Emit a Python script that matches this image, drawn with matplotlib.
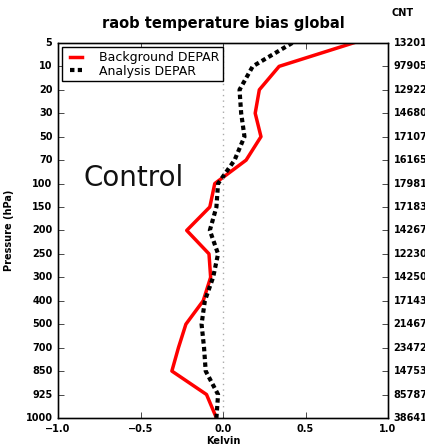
import matplotlib.pyplot as plt

# pressure levels (hPa), plotted as evenly spaced categories
levels = ["5", "10", "20", "30", "50", "70", "100", "150", "200", "250",
          "300", "400", "500", "700", "850", "925", "1000"]
counts = ["13201", "97905", "12922", "14680", "17107", "16165", "17981", "17183",
          "14267", "12230", "14250", "17143", "21467", "23472", "14753", "85787", "38641"]

# bias values in Kelvin
background = [0.79, 0.34, 0.22, 0.195, 0.23, 0.14, -0.05, -0.08, -0.22, -0.085,
              -0.075, -0.12, -0.225, -0.27, -0.31, -0.10, -0.04]
analysis = [0.42, 0.18, 0.10, 0.11, 0.13, 0.07, -0.03, -0.04, -0.08, -0.03,
            -0.06, -0.11, -0.13, -0.115, -0.105, -0.03, -0.04]

plt.style.use("classic")
fig = plt.figure(figsize=(4.25, 4.47), dpi=100, facecolor="white")
ax = fig.add_axes([0.1365, 0.065, 0.7765, 0.839])

ypos = list(range(len(levels)))
ax.plot(background, ypos, color="red", linewidth=2.5, label="Background DEPAR")
ax.plot(analysis, ypos, color="black", linewidth=3, linestyle="--",
        dashes=(3.2, 2.4), label="Analysis DEPAR")
ax.axvline(0, color="#aaaaaa", linestyle=":", linewidth=1)

ax.set_xlim(-1, 1)
ax.set_ylim(len(levels) - 1, 0)
ax.set_yticks(ypos)
ax.set_yticklabels(levels, fontsize=7, fontweight="bold")
ax.set_xticks([-1.0, -0.5, 0.0, 0.5, 1.0])
ax.set_xticklabels(["\u22121.0", "\u22120.5", "0.0", "0.5", "1.0"], fontsize=7, fontweight="bold")
for s in ax.spines.values():
    s.set_color("#444444")

ax2 = ax.twinx()
ax2.set_ylim(len(levels) - 1, 0)
ax2.set_yticks(ypos)
ax2.set_yticklabels(counts, fontsize=7, fontweight="bold")

ax.set_title("raob temperature bias global", fontsize=10.5, fontweight="bold", y=1.02)
ax.set_xlabel("Kelvin", fontsize=7, fontweight="bold", labelpad=2)
ax.set_ylabel("Pressure (hPa)", fontsize=7, fontweight="bold", labelpad=8)
fig.text(0.92, 0.965, "CNT", fontsize=7, fontweight="bold")
ax.text(-0.843, 5.75, "Control", fontsize=20, color="#111111", va="center")

ax.legend(loc="upper left", fontsize=9, handlelength=1.6, handletextpad=1.0,
          borderpad=0.3, labelspacing=0.05, borderaxespad=0.35)

fig.savefig("out.png", dpi=100, facecolor="white")
